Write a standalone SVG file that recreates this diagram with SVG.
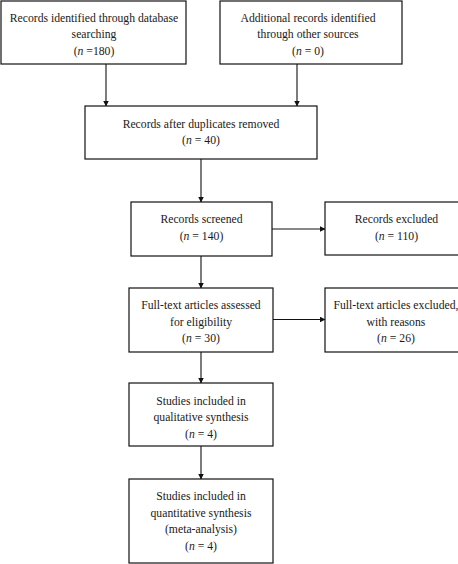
<svg xmlns="http://www.w3.org/2000/svg" width="458" height="564" viewBox="0 0 458 564">
<defs>
<style>
.box{fill:#fff;stroke:#111;stroke-width:1.2}
.t{font-family:"Liberation Serif","Times New Roman",serif;font-size:11.7px;fill:#1a1a1a;text-anchor:middle}
.c{stroke:#111;stroke-width:1.1;fill:none;marker-end:url(#ah)}
</style>
<marker id="ah" markerWidth="6" markerHeight="6" refX="5.5" refY="3" orient="auto" markerUnits="userSpaceOnUse">
<path d="M0,0 L6,3 L0,6 Z" fill="#111"/>
</marker>
</defs>
<rect width="458" height="564" fill="#fff"/>
<g id="connectors">
<line class="c" x1="106" y1="64" x2="106" y2="106"/>
<line class="c" x1="297" y1="64" x2="297" y2="106"/>
<line class="c" x1="201" y1="159" x2="201" y2="202"/>
<line class="c" x1="201" y1="256" x2="201" y2="288"/>
<line class="c" x1="201" y1="352" x2="201" y2="383"/>
<line class="c" x1="201" y1="446" x2="201" y2="479"/>
<line class="c" x1="272" y1="229" x2="325" y2="229"/>
<line class="c" x1="273" y1="319.5" x2="325" y2="319.5"/>
</g>
<g id="n1">
<rect class="box" x="1" y="1" width="185" height="63"/>
<text class="t" x="94" y="22">Records identified through database</text>
<text class="t" x="94" y="38">searching</text>
<text class="t" x="94" y="54.5">(<tspan font-style="italic">n</tspan> =180)</text>
</g>
<g id="n2">
<rect class="box" x="220" y="1" width="182" height="63"/>
<text class="t" x="308" y="22">Additional records identified</text>
<text class="t" x="308" y="38">through other sources</text>
<text class="t" x="308" y="54.5">(<tspan font-style="italic">n</tspan> = 0)</text>
</g>
<g id="n3">
<rect class="box" x="85" y="106" width="232" height="53"/>
<text class="t" x="201" y="127.5">Records after duplicates removed</text>
<text class="t" x="201" y="144">(<tspan font-style="italic">n</tspan> = 40)</text>
</g>
<g id="n4">
<rect class="box" x="131" y="202" width="141" height="54"/>
<text class="t" x="201.5" y="223">Records screened</text>
<text class="t" x="201.5" y="239.5">(<tspan font-style="italic">n</tspan> = 140)</text>
</g>
<g id="n5">
<rect class="box" x="325" y="202" width="143" height="53"/>
<text class="t" x="396.5" y="223">Records excluded</text>
<text class="t" x="396.5" y="239.5">(<tspan font-style="italic">n</tspan> = 110)</text>
</g>
<g id="n6">
<rect class="box" x="129" y="288" width="144" height="64"/>
<text class="t" x="201" y="309">Full-text articles assessed</text>
<text class="t" x="201" y="325.5">for eligibility</text>
<text class="t" x="201" y="342">(<tspan font-style="italic">n</tspan> = 30)</text>
</g>
<g id="n7">
<rect class="box" x="325" y="288" width="143" height="64"/>
<text class="t" x="396" y="309">Full-text articles excluded,</text>
<text class="t" x="396" y="325.5">with reasons</text>
<text class="t" x="396" y="342">(<tspan font-style="italic">n</tspan> = 26)</text>
</g>
<g id="n8">
<rect class="box" x="129" y="383" width="144" height="63"/>
<text class="t" x="201" y="404.5">Studies included in</text>
<text class="t" x="201" y="421">qualitative synthesis</text>
<text class="t" x="201" y="437.5">(<tspan font-style="italic">n</tspan> = 4)</text>
</g>
<g id="n9">
<rect class="box" x="129" y="479" width="144" height="84"/>
<text class="t" x="201" y="500">Studies included in</text>
<text class="t" x="201" y="516.5">quantitative synthesis</text>
<text class="t" x="201" y="533">(meta-analysis)</text>
<text class="t" x="201" y="549.5">(<tspan font-style="italic">n</tspan> = 4)</text>
</g>
</svg>
